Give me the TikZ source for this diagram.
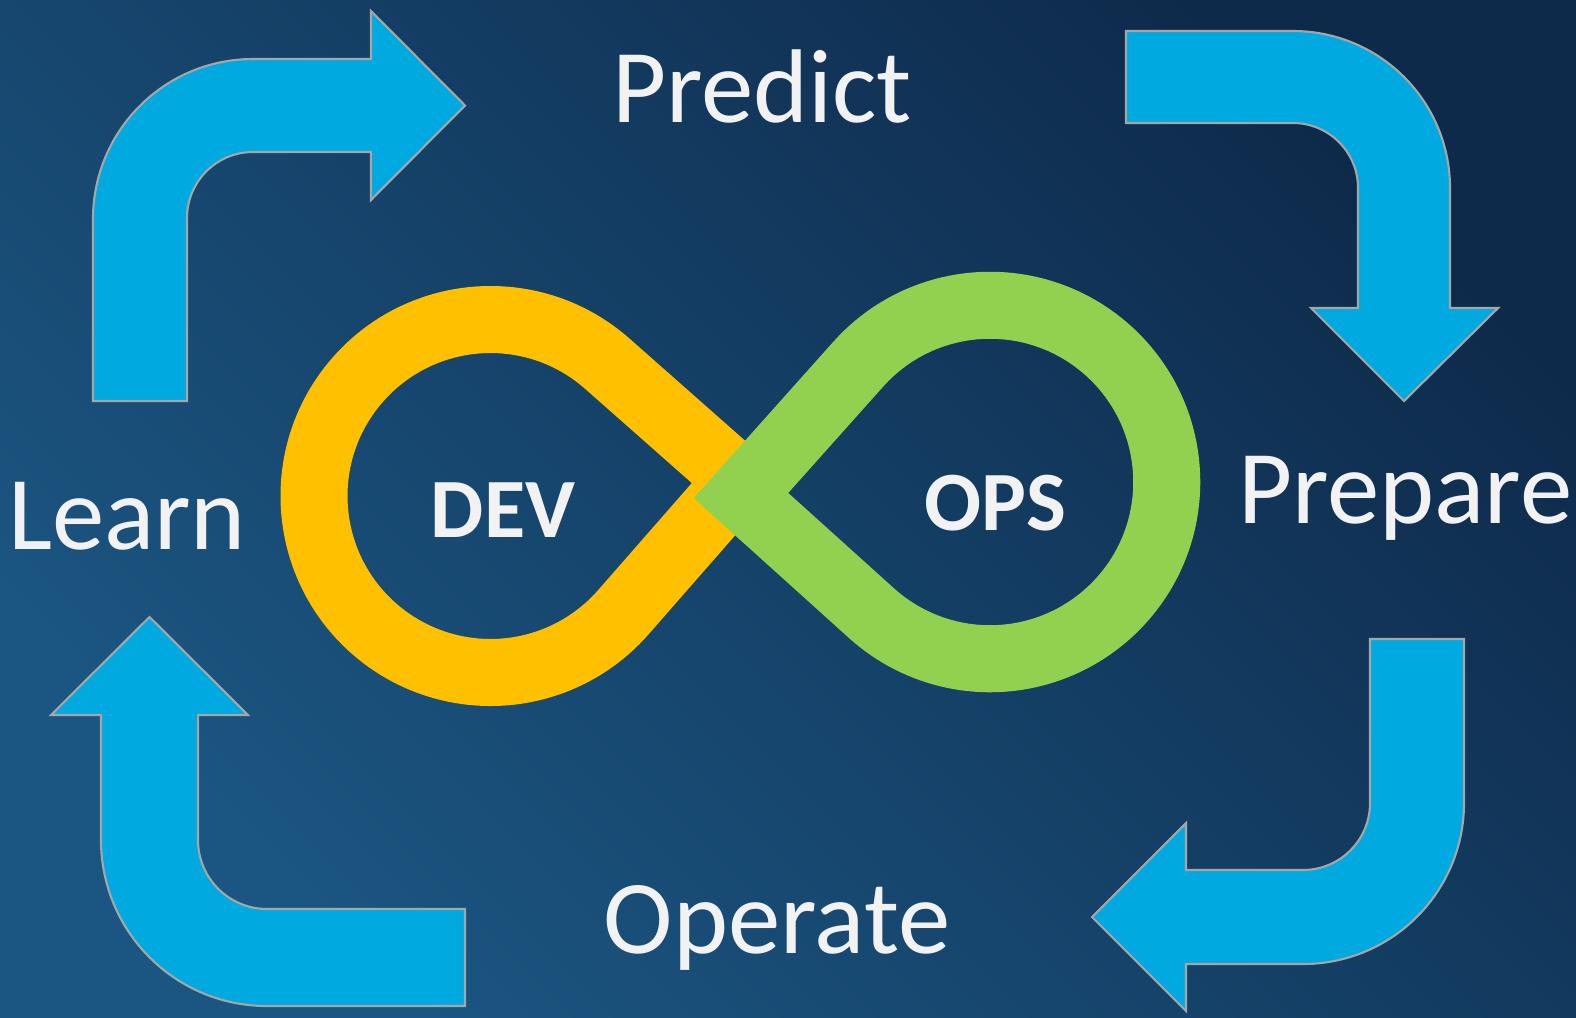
\documentclass[tikz,border=0pt]{standalone}
\usepackage{fontspec}
\setmainfont{Carlito}
\usetikzlibrary{calc}

\definecolor{bgdark}{HTML}{0E2A4B}
\definecolor{bglight}{HTML}{1B5682}
\definecolor{arrowblue}{HTML}{00A9E0}
\definecolor{arrowedge}{HTML}{A6A6A6}
\definecolor{devyellow}{HTML}{FFC000}
\definecolor{opsgreen}{HTML}{92D050}
\definecolor{textwhite}{HTML}{F2F2F2}

\begin{document}
\begin{tikzpicture}[x=0.01cm, y=-0.01cm,
    bentarrow/.style={fill=arrowblue, draw=arrowedge, line width=0.6pt, line join=miter},
    loopband/.style={line width=0.67cm, line join=miter},
    phase/.style={text=textwhite, anchor=base, inner sep=0pt, font=\fontsize{29.8}{35}\selectfont},
    core/.style={text=textwhite, anchor=base, inner sep=0pt, font=\fontsize{24}{28}\selectfont\bfseries}]
    \useasboundingbox (0,0) rectangle (1576,1017);
    \shade[top color=bgdark, bottom color=bglight, shading angle=-45] (0,0) rectangle (1576,1017);

    % centres and tips of the two loops
    \coordinate (cdev) at (490.5,496);
    \coordinate (cops) at (990,482);
    \coordinate (vdev) at (739,480);
    \coordinate (vops) at (741,495.5);

    % bent arrows, clockwise from top left
    \draw[bentarrow] (93,401) -- (93,219) arc[start angle=180, end angle=270, radius=160]
      -- (371,59) -- (371,11) -- (465,105.5) -- (371,200) -- (371,152) -- (253,152)
      arc[start angle=270, end angle=180, radius=66] -- (187,401) -- cycle;
    \draw[bentarrow] (1126,31) -- (1293,31) arc[start angle=270, end angle=360, radius=157]
      -- (1450,308) -- (1498,308) -- (1404,401) -- (1311,308) -- (1358,308) -- (1358,188)
      arc[start angle=0, end angle=-90, radius=65] -- (1126,123) -- cycle;
    \draw[bentarrow] (1370,639) -- (1464,639) -- (1464,803) arc[start angle=0, end angle=90, radius=161]
      -- (1186,964) -- (1186,1011) -- (1092,917) -- (1186,823) -- (1186,870) -- (1303,870)
      arc[start angle=90, end angle=0, radius=67] -- cycle;
    \draw[bentarrow] (465,1006) -- (267,1006) arc[start angle=90, end angle=180, radius=166]
      -- (101,715) -- (51,715) -- (149.5,617) -- (248,715) -- (198,715) -- (198,840)
      arc[start angle=180, end angle=90, radius=69] -- (465,909) -- cycle;

    % infinity loop
    \draw[loopband, devyellow] (vdev) -- ($(cdev)+(-48.5:176.5)$)
      arc[start angle=-48.5, end angle=-318.8, radius=176.5] -- cycle;
    \draw[loopband, opsgreen] (vops) -- ($(cops)+(221.8:176.75)$)
      arc[start angle=221.8, end angle=492, radius=176.75] -- cycle;

    \node[core] (dev) at (503,537) {DEV};
    \node[core] (ops) at (995,530) {OPS};

    \node[phase] (predict) at (762,122) {Predict};
    \node[phase] (prepare) at (1405,523) {Prepare};
    \node[phase] (operate) at (777,953) {Operate};
    \node[phase] (learn) at (127,549) {Learn};
\end{tikzpicture}
\end{document}
